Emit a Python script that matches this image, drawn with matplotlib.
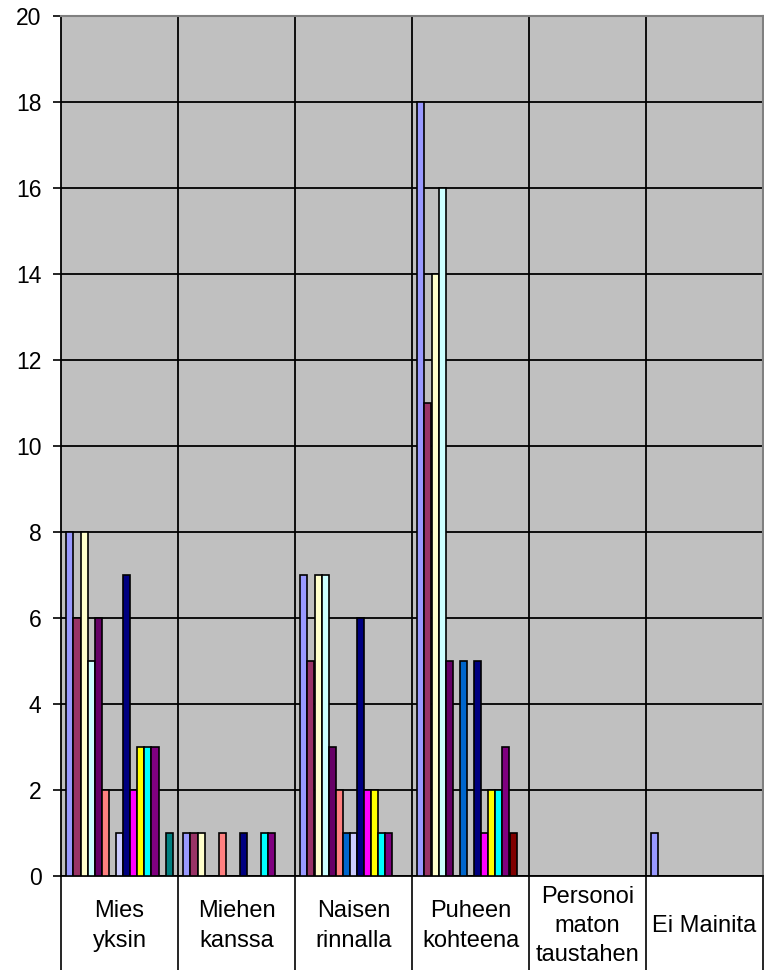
import matplotlib
matplotlib.use('Agg')
import matplotlib.pyplot as plt
import numpy as np

plt.rcParams['font.family'] = ['Liberation Sans', 'DejaVu Sans']

# categories and series (Excel default series colours, no legend in the original)
categories = ['Mies\nyksin', 'Miehen\nkanssa', 'Naisen\nrinnalla', 'Puheen\nkohteena',
              'Personoi\nmaton\ntaustahen', 'Ei Mainita']

s1 = [8, 1, 7, 18, 0, 1]
s2 = [6, 1, 5, 11, 0, 0]
s3 = [8, 1, 7, 14, 0, 0]
s4 = [5, 0, 7, 16, 0, 0]
s5 = [6, 0, 3, 5, 0, 0]
s6 = [2, 1, 2, 0, 0, 0]
s7 = [0, 0, 1, 5, 0, 0]
s8 = [1, 0, 1, 0, 0, 0]
s9 = [7, 1, 6, 5, 0, 0]
s10 = [2, 0, 2, 1, 0, 0]
s11 = [3, 0, 2, 2, 0, 0]
s12 = [3, 1, 1, 2, 0, 0]
s13 = [3, 1, 1, 3, 0, 0]
s14 = [0, 0, 0, 1, 0, 0]
s15 = [1, 0, 0, 0, 0, 0]

series = [s1, s2, s3, s4, s5, s6, s7, s8, s9, s10, s11, s12, s13, s14, s15]
colors = ['#9999FF', '#993366', '#FFFFCC', '#CCFFFF', '#660066', '#FF8080', '#0066CC',
          '#CCCCFF', '#000080', '#FF00FF', '#FFFF00', '#00FFFF', '#800080', '#800000',
          '#008080']

yticks = list(range(0, 21, 2))

W, H = 764, 971
fig = plt.figure(figsize=(W / 100, H / 100), dpi=100)
ax = fig.add_axes([61 / W, 95 / H, 702 / W, 860 / H])
ax.set_facecolor('#C0C0C0')

n = len(series)
w = 1 / (n + 1.5)   # gap width 150%
x = np.arange(len(categories))
for j, (vals, c) in enumerate(zip(series, colors)):
    pos = x - 0.5 + 0.75 * w + (j + 0.5) * w
    ax.bar(pos, vals, width=w, color=c, edgecolor='black', linewidth=1.2, zorder=3)

ax.set_xlim(-0.5, len(categories) - 0.5)
ax.set_ylim(0, 20)
ax.set_yticks(yticks)
ax.tick_params(axis='y', labelsize=16.5, length=6, width=1.2, pad=8, color='black')
ax.yaxis.grid(True, color='black', linewidth=1.3, zorder=1)

# category boundaries: vertical lines inside the plot, extended down as ticks
bounds = np.arange(len(categories) + 1) - 0.5
for b in bounds[1:-1]:
    ax.axvline(b, color='black', linewidth=1.3, zorder=1)
ax.set_xticks(bounds)
ax.set_xticklabels([])
ax.tick_params(axis='x', length=68, width=1.2, direction='out', color='black')
ax.set_axisbelow(True)

for i, lab in enumerate(categories):
    ax.annotate(lab, xy=(i, 0), xycoords=('data', 'axes fraction'),
                xytext=(0, -36), textcoords='offset points',
                ha='center', va='center', fontsize=17, linespacing=1.42)

for side in ['top', 'right']:
    ax.spines[side].set_color('#808080')
    ax.spines[side].set_linewidth(1.5)
for side in ['left', 'bottom']:
    ax.spines[side].set_color('black')
    ax.spines[side].set_linewidth(1.3)

fig.savefig('out.png', dpi=100)
